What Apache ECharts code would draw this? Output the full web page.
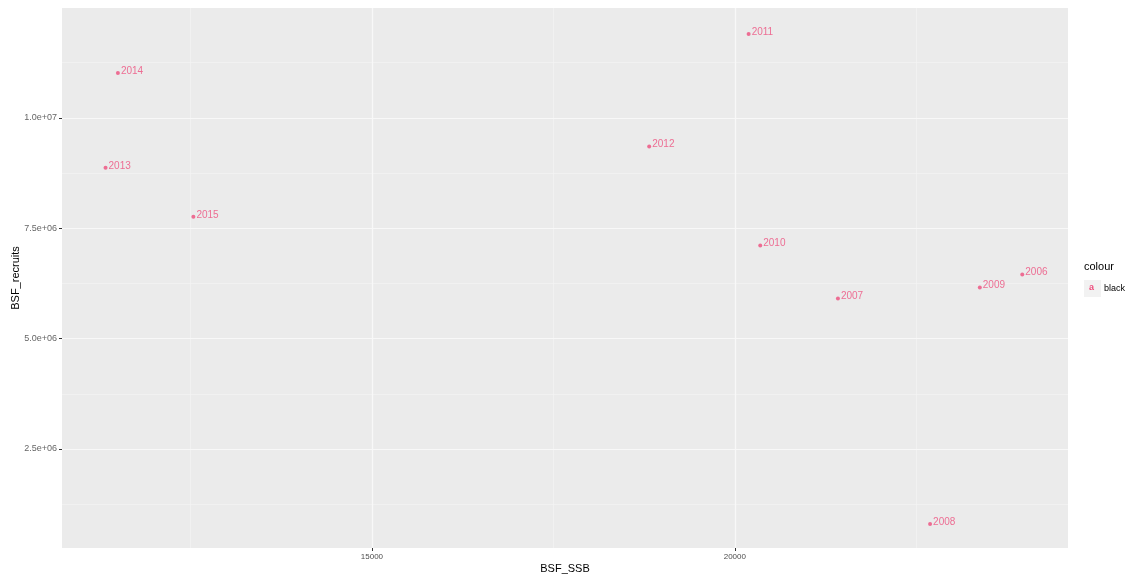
<!DOCTYPE html>
<html>
<head>
<meta charset="utf-8">
<script src="https://cdn.jsdelivr.net/npm/echarts@6/dist/echarts.min.js"></script>
<style>html,body{margin:0;padding:0;background:#fff}#c{width:1130px;height:577px}</style>
</head>
<body>
<div id="c"></div>
<script>
const years = ['2014','2013','2015','2011','2012','2010','2007','2009','2006','2008'];
const ssb = [11500, 11330, 12540, 20190, 18820, 20350, 21420, 23375, 23960, 22690];
const recruits = [11020000, 8870000, 7760000, 11900000, 9350000, 7110000, 5910000, 6160000, 6450000, 800000];
const xTicks = [15000, 20000];
const xMinor = [12500, 17500, 22500];
const yTicks = [2500000, 5000000, 7500000, 10000000];
const yTickLabels = ['2.5e+06', '5.0e+06', '7.5e+06', '1.0e+07'];
const yMinor = [1250000, 3750000, 6250000, 8750000, 11250000];
const legendTitle = 'colour';
const legendLabel = 'black';

const ptColor = '#EE4D7D';
const chart = echarts.init(document.getElementById('c'));
const font = 'Liberation Sans, Arial, sans-serif';
chart.setOption({
  animation: false,
  backgroundColor: '#ffffff',
  grid: {left: 62, right: 62, top: 8, bottom: 29, show: true, backgroundColor: '#EBEBEB', borderWidth: 0,
    containLabel: false, outerBoundsMode: 'none'},
  xAxis: {
    type: 'value', min: 10730, max: 24590,
    name: 'BSF_SSB', nameLocation: 'middle', nameGap: 15, nameMoveOverlap: false,
    nameTextStyle: {fontFamily: font, fontSize: 11, color: '#000'},
    axisLine: {show: false},
    axisTick: {show: true, length: 3, customValues: xTicks, lineStyle: {color: '#333'}},
    axisLabel: {customValues: xTicks, fontFamily: font, fontSize: 8, color: '#4D4D4D', margin: 5,
      formatter: v => String(v)},
    splitLine: {show: false}
  },
  yAxis: {
    type: 'value', min: 256000, max: 12490000,
    name: 'BSF_recruits', nameLocation: 'middle', nameGap: 41, nameRotate: 90, nameMoveOverlap: false,
    nameTextStyle: {fontFamily: font, fontSize: 11, color: '#000'},
    axisLine: {show: false},
    axisTick: {show: true, length: 3, customValues: yTicks, lineStyle: {color: '#333'}},
    axisLabel: {customValues: yTicks, fontFamily: font, fontSize: 9, color: '#666', margin: 5,
      formatter: v => { const i = yTicks.indexOf(v); return i >= 0 ? yTickLabels[i] : ''; }},
    splitLine: {show: false}
  },
  graphic: [
    {type: 'text', left: 1084, top: 261, style: {text: legendTitle, font: '11px ' + font, fill: '#000'}},
    {type: 'rect', shape: {x: 1084, y: 280, width: 17, height: 17}, style: {fill: '#F2F2F2'}},
    {type: 'text', left: 1089, top: 283, style: {text: 'a', font: 'bold 9px ' + font, fill: ptColor}},
    {type: 'text', left: 1104, top: 284, style: {text: legendLabel, font: '9px ' + font, fill: '#000'}}
  ],
  series: [
    {
      type: 'scatter', data: [], z: 1, silent: true,
      markLine: {
        silent: true, symbol: 'none', label: {show: false}, animation: false,
        lineStyle: {color: '#F4F4F4', width: 0.7, type: 'solid'},
        data: xMinor.map(v => ({xAxis: v})).concat(yMinor.map(v => ({yAxis: v})))
      }
    },
    {
      type: 'scatter', data: [], z: 2, silent: true,
      markLine: {
        silent: true, symbol: 'none', label: {show: false}, animation: false,
        lineStyle: {color: '#F8F8F8', width: 1.2, type: 'solid'},
        data: xTicks.map(v => ({xAxis: v})).concat(yTicks.map(v => ({yAxis: v})))
      }
    },
    {
      type: 'scatter', z: 5,
      data: ssb.map((x, i) => [x, recruits[i], years[i]]),
      symbolSize: 4,
      itemStyle: {color: ptColor},
      label: {show: true, position: 'right', distance: 1, offset: [0, -2],
        formatter: p => p.value[2], fontFamily: font, fontSize: 10, color: ptColor}
    }
  ]
});
</script>
</body>
</html>
